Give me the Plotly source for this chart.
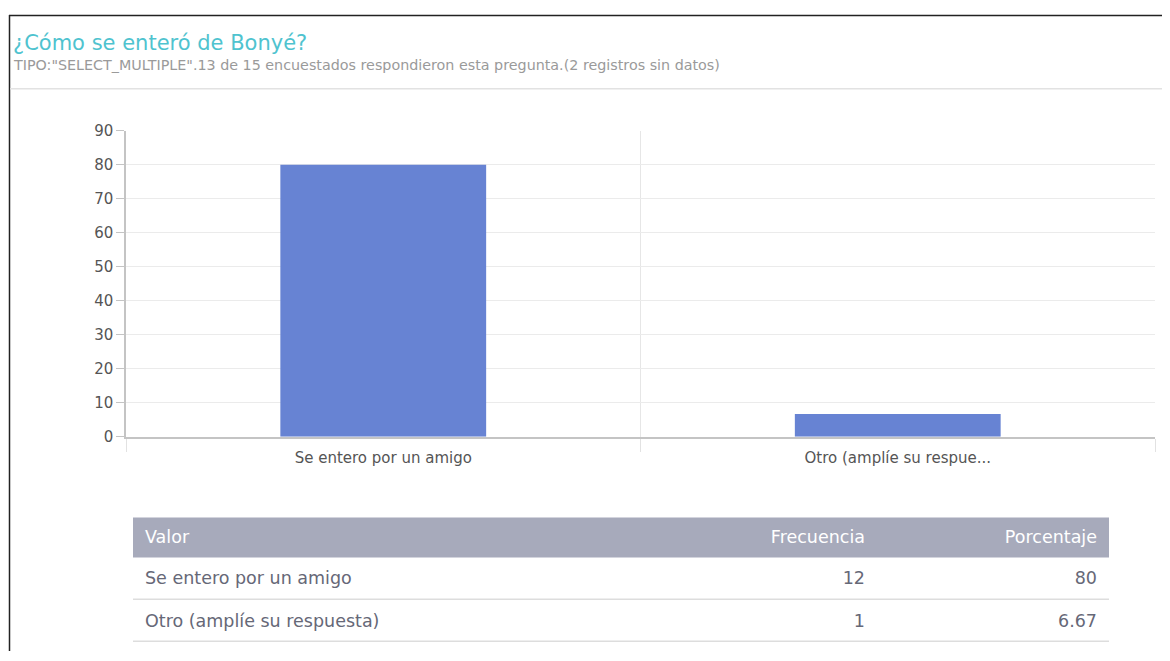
import plotly.graph_objects as go

# ---- data ----
categories = ["Se entero por un amigo", "Otro (amplíe su respuesta)"]
axis_labels = ["Se entero por un amigo", "Otro (amplíe su respue..."]
frecuencia = [12, 1]
porcentaje = [80, 6.67]
y_ticks = [0, 10, 20, 30, 40, 50, 60, 70, 80, 90]
table_header = ["Valor", "Frecuencia", "Porcentaje"]

title_text = "¿Cómo se enteró de Bonyé?"
subtitle_text = 'TIPO:"SELECT_MULTIPLE".13 de 15 encuestados respondieron esta pregunta.(2 registros sin datos)'

# figure size chosen so the page (with body margins) fits the window
W, H = 1154, 652
OX = 8          # horizontal page offset
S, T = 0.975, 16.5   # vertical capture scale and page offset
def px(x):
    return (x - OX) / W
def py(y):
    return 1 - (y / S - T) / H

FONT = "DejaVu Sans"

fig = go.Figure()

fig.add_trace(go.Bar(
    x=axis_labels, y=porcentaje, width=0.4,
    marker=dict(color="#6783d3", line=dict(width=0)),
    hoverinfo="x+y", showlegend=False,
    xaxis="x", yaxis="y",
))

def fmt(v):
    return f"{v:g}"

fig.add_trace(go.Table(
    domain=dict(x=[px(137), px(1105)], y=[0, py(522)]),
    columnwidth=[503, 233, 232],
    header=dict(
        values=table_header,
        fill_color="rgba(0,0,0,0)",
        line=dict(color="rgba(0,0,0,0)", width=1),
        align=["left", "right", "right"],
        font=dict(family=FONT, size=17.5, color="white"),
        height=41,
    ),
    cells=dict(
        values=[categories, [fmt(v) for v in frecuencia], [fmt(v) for v in porcentaje]],
        fill_color="rgba(0,0,0,0)",
        line=dict(color="rgba(0,0,0,0)", width=1),
        align=["left", "right", "right"],
        font=dict(family=FONT, size=17.5, color="#666877"),
        height=43,
    ),
))

shapes = [
    # card border
    dict(type="line", xref="paper", yref="paper", x0=px(9), x1=1, y0=py(14.5), y1=py(14.5),
         line=dict(color="#222", width=1.5)),
    dict(type="line", xref="paper", yref="paper", x0=px(9.5), x1=px(9.5), y0=py(14), y1=0,
         line=dict(color="#222", width=1.5)),
    # header separator
    dict(type="line", xref="paper", yref="paper", x0=px(10), x1=1, y0=py(88), y1=py(88),
         line=dict(color="#e2e2e2", width=1.5)),
    # table header background
    dict(type="rect", xref="paper", yref="paper", layer="below",
         x0=px(133), x1=px(1109), y0=py(558), y1=py(518),
         fillcolor="#a7aabb", line=dict(width=0)),
    # table row separators
    dict(type="line", xref="paper", yref="paper", x0=px(133), x1=px(1109), y0=py(600), y1=py(600),
         line=dict(color="#dddddd", width=1.5)),
    dict(type="line", xref="paper", yref="paper", x0=px(133), x1=px(1109), y0=py(642), y1=py(642),
         line=dict(color="#dddddd", width=1.5)),
]

annotations = [
    dict(text=title_text, xref="paper", yref="paper", x=px(11), y=py(42), xanchor="left", yanchor="middle",
         showarrow=False, font=dict(family=FONT, size=21, color="#4fc3cf")),
    dict(text=subtitle_text, xref="paper", yref="paper", x=px(11), y=py(64), xanchor="left", yanchor="middle",
         showarrow=False, font=dict(family=FONT, size=14.3, color="#9a9a9a")),
]

fig.update_layout(
    width=W, height=H,
    margin=dict(l=0, r=0, t=0, b=0),
    paper_bgcolor="white", plot_bgcolor="white",
    shapes=shapes, annotations=annotations,
    xaxis=dict(
        domain=[px(126), px(1155)],
        anchor="y",
        type="category",
        range=[-0.5, 1.5],
        tickson="boundaries",
        ticks="outside", ticklen=13, tickcolor="#e2e2e2", tickwidth=1,
        ticklabelstandoff=6,
        showgrid=True, gridcolor="#e6e6e6", gridwidth=1,
        showline=True, linecolor="#c4c4c4", linewidth=1.5,
        tickfont=dict(family=FONT, size=15, color="#555"),
        fixedrange=True,
    ),
    yaxis=dict(
        domain=[py(437), py(130)],
        anchor="x",
        range=[0, 90],
        tickvals=y_ticks,
        ticks="outside", ticklen=8, tickcolor="#c4c4c4", tickwidth=1,
        showgrid=True, gridcolor="#ebebeb", gridwidth=1,
        showline=True, linecolor="#c4c4c4", linewidth=1.5,
        zeroline=False,
        tickfont=dict(family=FONT, size=15, color="#555"),
        fixedrange=True,
    ),
)

fig.write_html("out.html")
